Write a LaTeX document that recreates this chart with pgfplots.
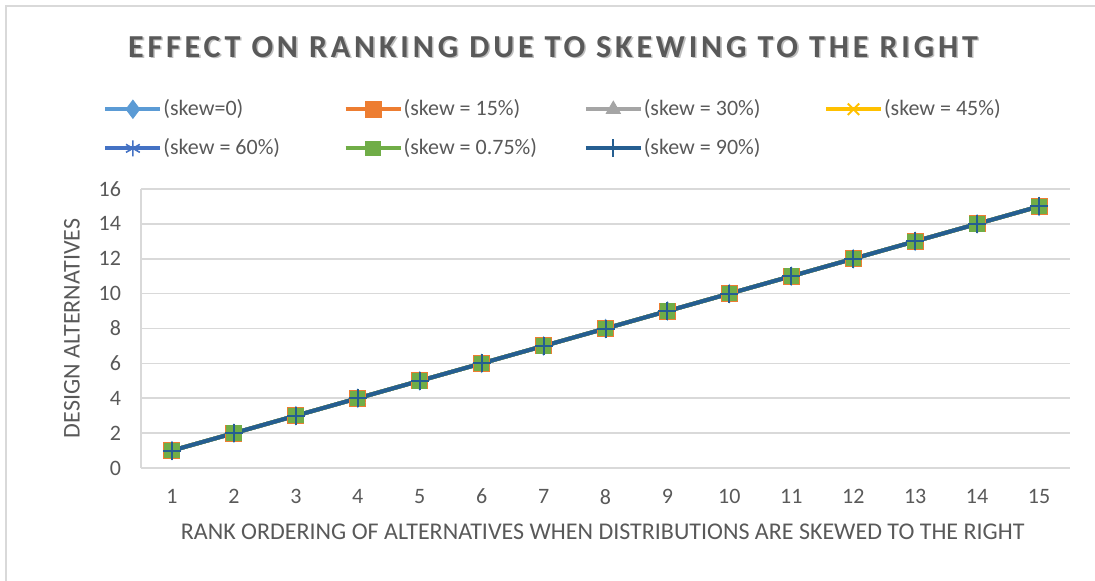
\documentclass[border=0pt]{standalone}
\usepackage{fontspec}
\setmainfont{Carlito}
\usepackage{pgfplots}
\pgfplotsset{compat=1.18}

\definecolor{txt}{HTML}{595959}
\definecolor{grd}{HTML}{D9D9D9}
\definecolor{sA}{HTML}{5B9BD5}
\definecolor{sB}{HTML}{ED7D31}
\definecolor{sC}{HTML}{A5A5A5}
\definecolor{sD}{HTML}{FFC000}
\definecolor{sE}{HTML}{4472C4}
\definecolor{sF}{HTML}{70AD47}
\definecolor{sG}{HTML}{255E91}

\pgfplotstableread{
x y
1 1
2 2
3 3
4 4
5 5
6 6
7 7
8 8
9 9
10 10
11 11
12 12
13 13
14 14
15 15
}\ranks

\newcommand{\legtxt}[1]{\makebox[89.6pt][l]{#1}}

\begin{document}
\begin{tikzpicture}
\useasboundingbox (-70.5pt,-56pt) rectangle (477pt,234pt);
\draw[grd,line width=1pt] (-67.5pt,231pt) rectangle (490pt,-70pt);
\begin{axis}[
  scale only axis, width=464.5pt, height=139.5pt,
  xmin=0.5, xmax=15.5, ymin=0, ymax=16,
  xtick={1,...,15}, ytick={0,2,...,16},
  axis lines=left, axis line style={grd, line width=0.8pt, -},
  ymajorgrids, grid style={grd, line width=0.8pt},
  major tick length=0pt,
  tick label style={font=\fontsize{11}{13}\selectfont, text=txt},
  /pgf/number format/assume math mode=true,
  xticklabel style={yshift=-7pt},
  yticklabel style={xshift=-6.5pt},
  label style={font=\fontsize{12}{14}\selectfont, text=txt},
  xlabel={RANK ORDERING OF ALTERNATIVES WHEN DISTRIBUTIONS ARE SKEWED TO THE RIGHT},
  ylabel={DESIGN ALTERNATIVES},
  xlabel style={at={(axis description cs:0.497,0)}, anchor=center, yshift=-32pt},
  ylabel style={at={(axis description cs:0,0.5)}, anchor=center, xshift=0pt, yshift=34.5pt},
  legend columns=4,
  legend style={at={(axis description cs:-0.0409,1.325)}, anchor=north west,
    draw=none, fill=none, inner sep=0pt, row sep=9pt,
    font=\fontsize{11}{13}\selectfont, text=txt,
    nodes={inner sep=0.5pt}},
  legend cell align=left,
  legend image code/.code={\draw[mark repeat=2,mark phase=2,#1] plot coordinates {(0pt,0pt) (13.75pt,0pt) (27.5pt,0pt)};},
  every axis plot/.append style={line width=2pt, mark size=4pt},
]
\addplot[sA, mark=diamond*, mark options={solid, fill=sA, mark size=4.5pt, line width=0.5pt}] table {\ranks};
\addlegendentry{\legtxt{(skew=0)}}
\addplot[sB, mark=square*, mark options={solid, fill=sB, line width=0.5pt}] table {\ranks};
\addlegendentry{\legtxt{(skew = 15\%)}}
\addplot[sC, mark=triangle*, mark options={solid, fill=sC, line width=0.5pt}] table {\ranks};
\addlegendentry{\legtxt{(skew = 30\%)}}
\addplot[sD, mark=x, mark options={solid, line width=1pt}] table {\ranks};
\addlegendentry{\legtxt{(skew = 45\%)}}
\addplot[sE, mark=asterisk, mark options={solid, line width=0.8pt}] table {\ranks};
\addlegendentry{\legtxt{(skew = 60\%)}}
\addplot[sF, mark=square*, mark options={solid, fill=sF, draw=sF, mark size=3.6pt, line width=0.5pt}] table {\ranks};
\addlegendentry{\legtxt{(skew = 0.75\%)}}
\addplot[sG, mark=+, mark options={solid, line width=1pt, mark size=4.5pt}] table {\ranks};
\addlegendentry{\legtxt{(skew = 90\%)}}
\end{axis}
\node[text=black!25, font=\fontsize{16}{19}\selectfont\bfseries\addfontfeature{LetterSpace=12}] at (206.8pt,209.7pt) {EFFECT ON RANKING DUE TO SKEWING TO THE RIGHT};
\node[text=txt, font=\fontsize{16}{19}\selectfont\bfseries\addfontfeature{LetterSpace=12}] at (206pt,210.5pt) {EFFECT ON RANKING DUE TO SKEWING TO THE RIGHT};
\end{tikzpicture}
\end{document}
